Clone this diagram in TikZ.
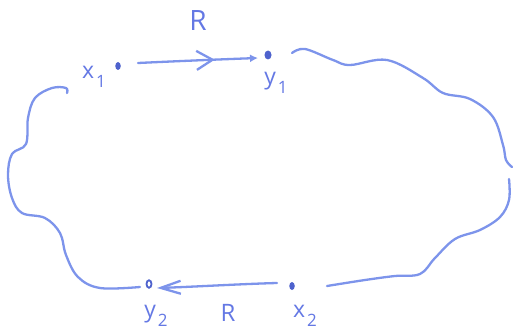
\documentclass[tikz,border=0pt]{standalone}
\usepackage{fontspec}
\setmainfont{Open Sans}
\usetikzlibrary{arrows.meta,decorations.markings,calc,shapes.geometric}
\definecolor{pen}{RGB}{125,148,235}
\definecolor{ink}{RGB}{78,98,205}
\definecolor{txt}{RGB}{100,120,228}
\newcommand{\sublbl}[2]{#1\kern2pt\raisebox{-0.42em}{\fontsize{17}{17}\selectfont #2}}
\begin{document}
\begin{tikzpicture}[x=1pt,y=-1pt,
  pen/.style={draw=pen, color=pen, line width=2.3pt, line cap=round, line join=round},
  dotfill/.style={ellipse, inner sep=0pt, minimum width=5.5pt, minimum height=8pt, fill=ink},
  dotopen/.style={ellipse, inner sep=0pt, minimum width=5pt, minimum height=7.5pt, draw=ink, line width=1.8pt},
  lbl/.style={text=txt, font=\fontsize{23}{23}\selectfont, inner sep=0pt},
  midarrow/.style={postaction={decorate}, decoration={markings,
      mark=at position #1 with {\arrow{Straight Barb[length=16pt,width=19pt]}}}}
]
\useasboundingbox (0,0) rectangle (513,334);
% points
\node[dotfill] (x1) at (118,66) {};
\node[dotfill, minimum width=7pt, minimum height=9pt] (y1) at (268,55) {};
\node[dotfill] (x2) at (292,286) {};
\node[dotopen] (y2) at (149,284) {};
% labels
\node[lbl] (lx1) at (94,77) {\sublbl{x}{1}};
\node[lbl] (ly1) at (276,83) {\sublbl{y}{1}};
\node[lbl] (lx2) at (305,316) {\sublbl{x}{2}};
\node[lbl] (ly2) at (156,316) {\sublbl{y}{2}};
\node[lbl, font=\fontsize{28}{28}\selectfont] (r1) at (198,21) {R};
\node[lbl, font=\fontsize{24}{24}\selectfont] (r2) at (228,313) {R};
% endpoints
\coordinate (a0) at ($(x1)+(20,-3)$);
\coordinate (a1) at ($(y1)+(-10,3)$);
\coordinate (b0) at ($(x2)+(-15,-3)$);
\coordinate (b1) at ($(y2)+(8,4)$);
\coordinate (l0) at ($(y2)+(-9,3)$);
\coordinate (r0) at ($(y1)+(24,-2)$);
\coordinate (r3) at ($(x2)+(35,0)$);
% relation arrows
\draw[pen, midarrow=0.64, -{Latex[length=8pt,width=8pt]}] (a0) .. controls (180,61) and (230,59) .. (a1);
\draw[pen, -{Straight Barb[length=20pt,width=13pt]}] (b0) .. controls (240,284) and (190,287) .. (b1);
% cloud, left
\draw[pen] plot[smooth, tension=0.6] coordinates {(l0) (100,288) (78,277) (66,255) (60,233) (45,218) (22,213) (12,198) (8,175) (12,154) (26,144) (28,118) (35,98) (52,88) (66,88) (67,93)};
% cloud, right
\draw[pen] plot[smooth, tension=0.6] coordinates {(r0) (305,49) (333,60) (350,65) (387,60) (423,78) (443,93) (470,99) (493,117) (503,145) (506,160) (512,167)};
\draw[pen] plot[smooth, tension=0.6] coordinates {(509,179) (509,200) (500,217) (480,230) (455,239) (435,258) (420,274) (395,276) (365,280) (r3)};
\end{tikzpicture}
\end{document}
